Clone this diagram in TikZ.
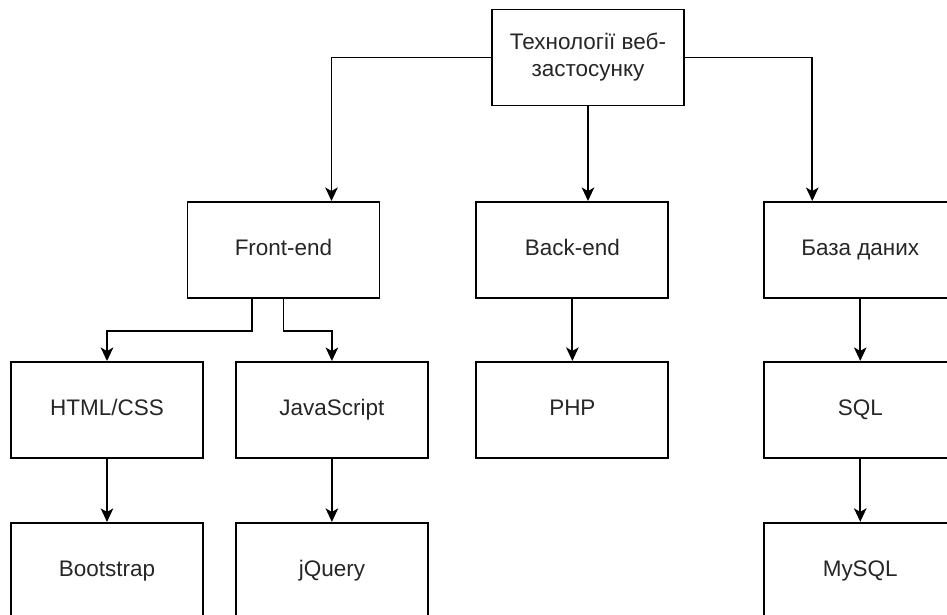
\documentclass[tikz,border=0pt]{standalone}
\usepackage{fontspec}
\setmainfont{Liberation Sans}
\usetikzlibrary{arrows.meta,positioning}

\begin{document}
\begin{tikzpicture}[
    x=0.02cm, y=-0.02cm,
    block/.style={rectangle, draw=black, line width=1.1pt, fill=white, minimum width=3.84cm, minimum height=1.92cm, inner sep=2pt, font=\fontsize{12.8}{15.3}\selectfont, text=black!85, text height=1.6ex, text depth=0.45ex},
    arrow/.style={-{Stealth[length=0.27cm, width=0.25cm, inset=0.07cm]}, line width=1.1pt}
]
\useasboundingbox (0,0) rectangle (947,615);
\clip (0,0) rectangle (947,615);
\node[block, align=center, text height=, text depth=] (tech) at (588,57.5) {Технології веб-\\застосунку};
\node[block] (front) at (283.5,250) {Front-end};
\node[block, right=1.9cm of front] (back) {Back-end};
\node[block, right=1.88cm of back] (db) {База даних};
\node[block] (html) at (107,410) {HTML/CSS};
\node[block, right=0.62cm of html] (js) {JavaScript};
\node[block, below=1.24cm of back] (php) {PHP};
\node[block, below=1.24cm of db] (sql) {SQL};
\node[block, below=1.26cm of html] (boot) {Bootstrap};
\node[block, below=1.26cm of js] (jq) {jQuery};
\node[block, below=1.26cm of sql] (mysql) {MySQL};
\draw[arrow] (tech.west) -| ([xshift=0.96cm]front.north);
\draw[arrow] (tech.south) -- (tech.south |- back.north);
\draw[arrow] (tech.east) -| ([xshift=-0.96cm]db.north);
\draw[arrow] ([xshift=-0.63cm]front.south) -- ++(0,32) -| (html.north);
\draw[arrow] (front.south) -- ++(0,32) -| (js.north);
\draw[arrow] (back) -- (php);
\draw[arrow] (db) -- (sql);
\draw[arrow] (html) -- (boot);
\draw[arrow] (js) -- (jq);
\draw[arrow] (sql) -- (mysql);
\end{tikzpicture}
\end{document}
